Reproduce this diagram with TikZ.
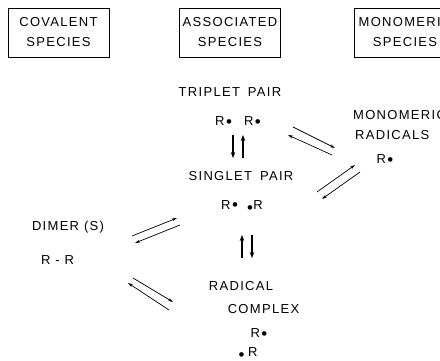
\documentclass[tikz,border=0pt]{standalone}
\usepackage{fontspec}
\usepackage{graphicx}
\setmainfont{Liberation Sans}[LetterSpace=10]
\usetikzlibrary{arrows.meta}
% radical dots: mid-height (R.) and low (.R)
\newcommand\hidot{\hspace{1.5pt}\raisebox{-1.2pt}{\scalebox{1.3}{\textbullet}}}
\newcommand\lodot{\raisebox{-3.6pt}{\scalebox{1.3}{\textbullet}}\hspace{0.5pt}}
\newcommand\wgap{\hspace{8pt}}
\begin{document}
\begin{tikzpicture}[x=1pt,y=-1pt,
  lbl/.style={inner sep=0pt,font=\fontsize{13}{20}\selectfont},
  spbox/.style={lbl,draw,line width=0.7pt,align=center,minimum width=101pt,minimum height=49pt},
  eq/.style={line width=0.7pt,-{Stealth[length=5pt,width=3pt]}},
  heavy/.style={line width=1.8pt,-{Stealth[length=6pt,width=4.5pt]}}]
\useasboundingbox (0,0) rectangle (440,361);
\clip (0,0) rectangle (440,361);

% column headings
\node[spbox] (cov) at (58.5,32.5) {COVALENT\\SPECIES};
\node[spbox] (asc) at (230,32.5) {ASSOCIATED\\SPECIES};
\node[spbox] (mon) at (405,32.5) {MONOMERIC\\SPECIES};

% associated species
\node[lbl] (trip) at (230,92) {TRIPLET\wgap PAIR};
\node[lbl] (tripR) at (238,122) {R\hidot\hspace{12pt}R\hidot};
\node[lbl] (sing) at (241,176) {SINGLET\wgap PAIR};
\node[lbl] (singR) at (242,207) {R\hidot\hspace{9pt}\lodot R};
\node[lbl] (radc) at (241,286) {RADICAL};
\node[lbl] (comp) at (263.5,309) {COMPLEX};
\node[lbl] (cR1) at (259,334) {R\hidot};
\node[lbl] (cR2) at (248,354) {\lodot\hspace{3pt}R};

% monomeric species
\node[lbl,anchor=west] (mono) at (353,115) {MONOMERIC};
\node[lbl,anchor=west] (rads) at (355,135) {RADICALS};
\node[lbl] (monR) at (385,160) {R\hidot};

% covalent species
\node[lbl] (dim) at (68,227) {DIMER (S)};
\node[lbl] (dimR) at (57.5,260) {R - R};

% equilibrium arrow end points
\coordinate (a1) at (293,127); \coordinate (a2) at (335,148);
\coordinate (a3) at (332,155); \coordinate (a4) at (288,135);
\coordinate (b1) at (317,192); \coordinate (b2) at (355,165);
\coordinate (b3) at (360,172); \coordinate (b4) at (322,199);
\coordinate (c1) at (132,236); \coordinate (c2) at (177,218);
\coordinate (c3) at (180,225); \coordinate (c4) at (135,243);
\coordinate (d1) at (133,278); \coordinate (d2) at (173,302);
\coordinate (d3) at (169,310); \coordinate (d4) at (128,283);
\coordinate (v1) at (233,135); \coordinate (v2) at (233,158);
\coordinate (v3) at (243,158); \coordinate (v4) at (243,135);
\coordinate (w1) at (242,258); \coordinate (w2) at (242,235);
\coordinate (w3) at (252,235); \coordinate (w4) at (252,258);

\draw[eq] (a1) -- (a2);
\draw[eq] (a3) -- (a4);
\draw[eq] (b1) -- (b2);
\draw[eq] (b3) -- (b4);
\draw[eq] (c1) -- (c2);
\draw[eq] (c3) -- (c4);
\draw[eq] (d1) -- (d2);
\draw[eq] (d3) -- (d4);
\draw[heavy] (v1) -- (v2);
\draw[heavy] (v3) -- (v4);
\draw[heavy] (w1) -- (w2);
\draw[heavy] (w3) -- (w4);
\end{tikzpicture}
\end{document}
